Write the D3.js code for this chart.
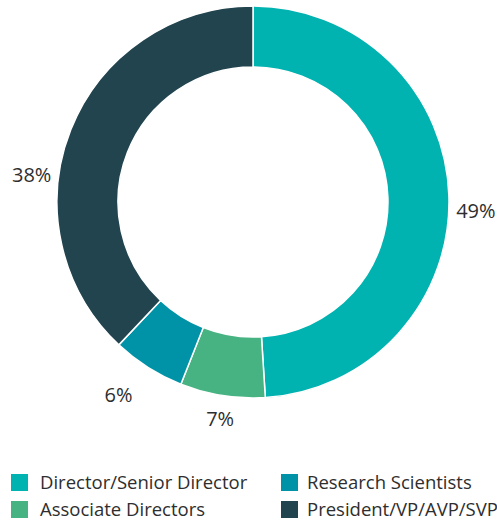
<!DOCTYPE html>
<html>
<head>
<meta charset="utf-8">
<script src="https://cdn.jsdelivr.net/npm/d3@7"></script>
<style>
  body { margin: 0; background: #fff; }
  svg { display: block; }
  text { font-family: "Open Sans", sans-serif; fill: #2e2e2e; }
</style>
</head>
<body>
<svg width="497" height="521"></svg>
<script>
// chart data
var categories = ["Director/Senior Director", "Associate Directors", "Research Scientists", "President/VP/AVP/SVP"];
var values = [49, 7, 6, 38];
var colors = ["#00b2b0", "#48b382", "#0093a7", "#21444f"];

// label nudges (px) from the mid-angle spot
var labelNudge = [[0, 15], [2, -4], [-15, 4], [-14, 55]];

var w = 497, h = 521;
var cx = 253, cy = 202;
var outerR = 196, innerR = 135, labelR = 223;

var svg = d3.select("svg");

var pie = d3.pie().sort(null).value(d => d.value);
var arc = d3.arc().innerRadius(innerR).outerRadius(outerR);

var data = categories.map((c, i) => ({ name: c, value: values[i], color: colors[i], i: i }));
var arcs = pie(data);

var g = svg.append("g").attr("transform", "translate(" + cx + "," + cy + ")");

g.selectAll("path")
    .data(arcs)
    .enter()
    .append("path")
    .attr("d", arc)
    .attr("fill", d => d.data.color)
    .attr("stroke", "#fff")
    .attr("stroke-width", 1.5);

var total = d3.sum(values);

g.selectAll("text.lbl")
    .data(arcs)
    .enter()
    .append("text")
    .attr("class", "lbl")
    .attr("x", d => {
        var a = (d.startAngle + d.endAngle) / 2;
        return labelR * Math.sin(a) + labelNudge[d.index][0];
    })
    .attr("y", d => {
        var a = (d.startAngle + d.endAngle) / 2;
        return -labelR * Math.cos(a) + labelNudge[d.index][1];
    })
    .attr("text-anchor", "middle")
    .attr("dominant-baseline", "central")
    .attr("font-size", 20)
    .text(d => Math.round(d.data.value / total * 100) + "%");

// legend, two columns
var legend = svg.append("g");
var item = legend.selectAll("g")
    .data(data)
    .enter()
    .append("g")
    .attr("transform", (d, i) => {
        var col = i < 2 ? 0 : 1;
        var row = i % 2;
        return "translate(" + (11 + col * 270) + "," + (474 + row * 27) + ")";
    });

item.append("rect")
    .attr("width", 17)
    .attr("height", 17)
    .attr("fill", d => d.color);

item.append("text")
    .attr("x", (d, i) => i < 2 ? 29 : 26)
    .attr("y", 14.5)
    .attr("font-size", 18.5)
    .text(d => d.name);
</script>
</body>
</html>
